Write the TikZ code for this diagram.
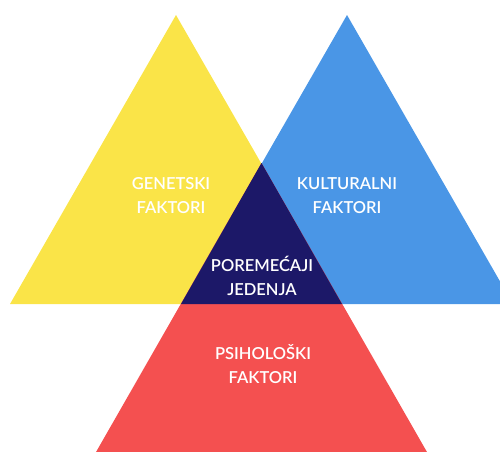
\documentclass[tikz,border=0pt]{standalone}
\usepackage{fontspec}
\setmainfont{Lato Semibold}
\definecolor{tyellow}{RGB}{250,228,72}
\definecolor{tblue}{RGB}{74,150,230}
\definecolor{tred}{RGB}{244,80,80}
\definecolor{tnavy}{RGB}{28,24,104}
\begin{document}
\begin{tikzpicture}[x=1pt,y=-1pt,
  lbl/.style={text=white,font=\fontsize{16.5}{20}\selectfont,anchor=base,inner sep=0pt}]
\useasboundingbox (0,0) rectangle (500,451);
\begin{scope}
\clip (0,0) rectangle (500,451);
% yellow triangle
\fill[tyellow] (176,15) -- (10,304) -- (342,304) -- cycle;
% blue triangle
\fill[tblue] (347,15) -- (181,304) -- (513,304) -- cycle;
% red triangle
\fill[tred] (261.5,163) -- (80,480) -- (443,480) -- cycle;
% overlap
\fill[tnavy] (261.5,163) -- (181,304) -- (342,304) -- cycle;
\end{scope}
\node[lbl] (g1) at (171,189) {GENETSKI};
\node[lbl] (g2) at (171,213) {FAKTORI};
\node[lbl] (k1) at (347,189) {KULTURALNI};
\node[lbl] (k2) at (347,213) {FAKTORI};
\node[lbl] (p1) at (262,271) {POREMEĆAJI};
\node[lbl] (p2) at (262,295) {JEDENJA};
\node[lbl] (s1) at (263,359) {PSIHOLOŠKI};
\node[lbl] (s2) at (263,383) {FAKTORI};
\end{tikzpicture}
\end{document}
